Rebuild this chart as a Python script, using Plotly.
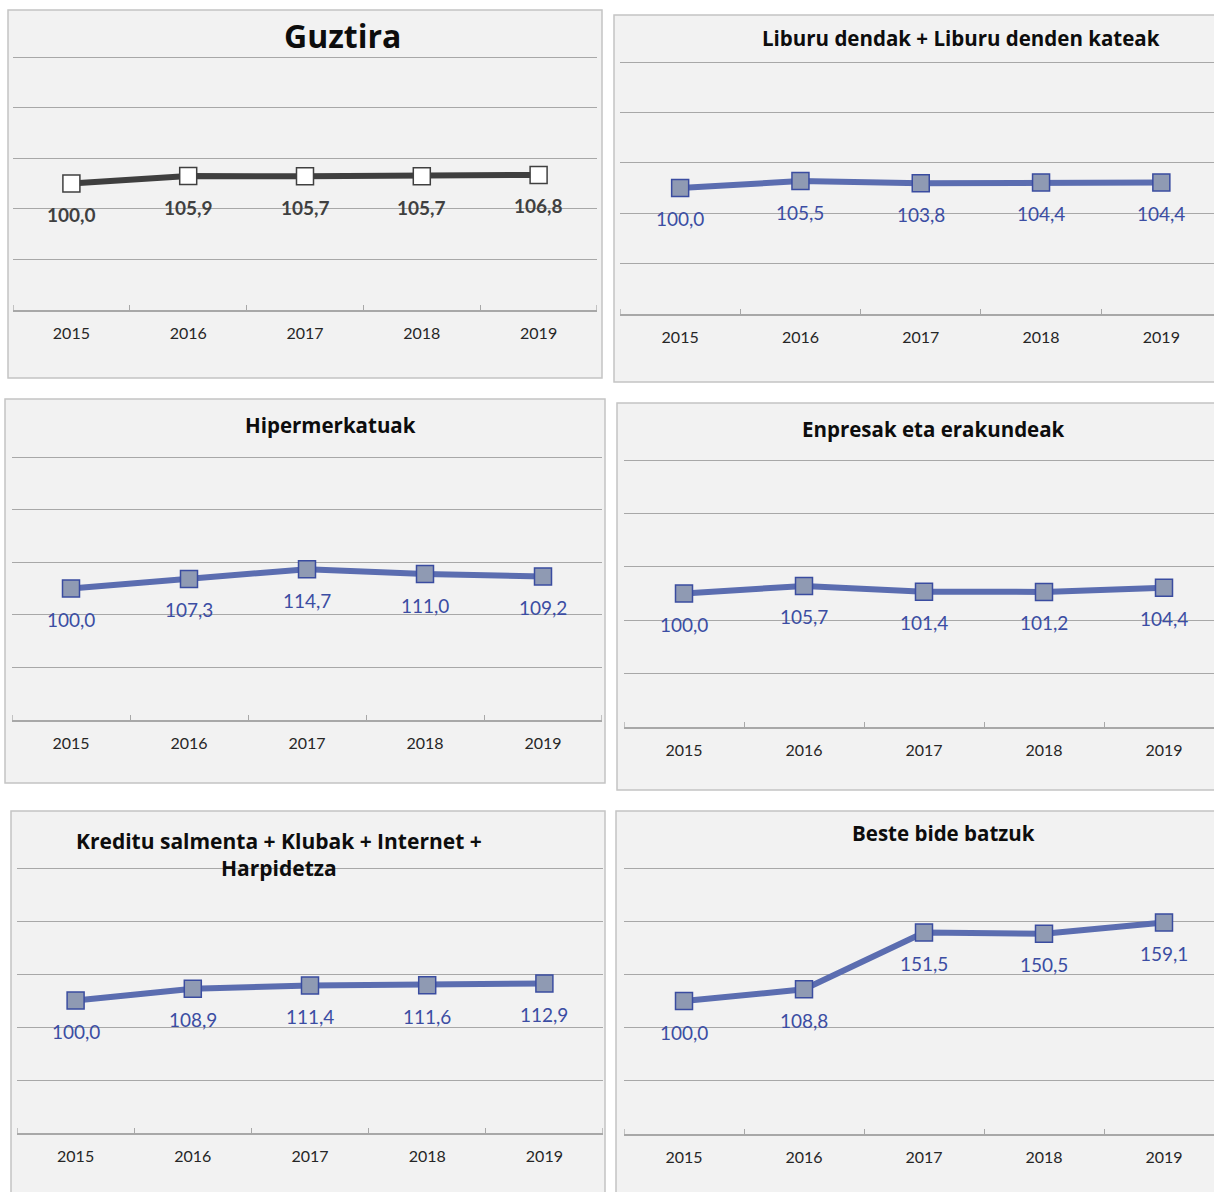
import plotly.graph_objects as go

W, H = 1214, 1192

years = ["2015", "2016", "2017", "2018", "2019"]
guztira = [100.0, 105.9, 105.7, 105.7, 106.8]
liburu = [100.0, 105.5, 103.8, 104.4, 104.4]
hiper = [100.0, 107.3, 114.7, 111.0, 109.2]
enpresak = [100.0, 105.7, 101.4, 101.2, 104.4]
kreditu = [100.0, 108.9, 111.4, 111.6, 112.9]
beste = [100.0, 108.8, 151.5, 150.5, 159.1]

titles = ["Guztira", "Liburu dendak + Liburu denden kateak", "Hipermerkatuak",
          "Enpresak eta erakundeak", "Kreditu salmenta + Klubak + Internet +<br>Harpidetza",
          "Beste bide batzuk"]
series = [guztira, liburu, hiper, enpresak, kreditu, beste]

YMAX = 200   # value of top gridline
YTOP = 204   # axis range top (a bit above so the top gridline is drawn)

# panel layout in pixels
panels = [
    dict(bg=(8, 10, 602, 378), px=(13, 597), py=(57, 310), xend=4.5, tc=(342.5, 35), ts=32),
    dict(bg=(614, 15, 1220, 382), px=(620, 1214), py=(62, 314), xend=-0.5 + 594 / 120.3, tc=(961.5, 38), ts=20.5),
    dict(bg=(5, 399, 605, 783), px=(12, 602), py=(457, 720), xend=4.5, tc=(330.5, 425), ts=20.5),
    dict(bg=(617, 403, 1220, 790), px=(624, 1214), py=(460, 727), xend=-0.5 + 590 / 120.0, tc=(933, 429), ts=20.5),
    dict(bg=(11, 811, 605, 1200), px=(17, 603), py=(868, 1133), xend=4.5, tc=(279, 854.5), ts=21),
    dict(bg=(616, 811, 1220, 1200), px=(624, 1214), py=(868, 1134), xend=-0.5 + 590 / 120.0, tc=(943, 833), ts=20.5),
]

BLUE_LINE = "#5B6DB0"
BLUE_MARK = "#8F9AB3"
BLUE_EDGE = "#3A4CA0"
BLUE_TEXT = "#3B4DA3"
DARK = "#404040"
GRID = "#A8A8A8"

fig = go.Figure()
layout = dict(
    width=W, height=H, margin=dict(l=0, r=0, t=0, b=0),
    paper_bgcolor="white", plot_bgcolor="rgba(0,0,0,0)",
    showlegend=False, shapes=[], annotations=[],
)

for i, (p, vals, title) in enumerate(zip(panels, series, titles)):
    n = "" if i == 0 else str(i + 1)
    xa, ya = "x" + n, "y" + n
    x0, y0, x1, y1 = p["bg"]
    layout["shapes"].append(dict(
        type="rect", xref="paper", yref="paper", layer="below",
        x0=x0 / W, x1=x1 / W, y0=1 - y1 / H, y1=1 - y0 / H,
        fillcolor="#F2F2F2", line=dict(color="#C4C4C4", width=1.5),
    ))
    ytop_px, ybot_px = p["py"]
    scale = (ybot_px - ytop_px) / YMAX
    ytop_px = ytop_px - (YTOP - YMAX) * scale
    layout["xaxis" + n] = dict(
        domain=[p["px"][0] / W, p["px"][1] / W], anchor=ya,
        type="category", range=[-0.5, p["xend"]], tickson="boundaries",
        ticks="inside", ticklen=5, tickcolor=GRID, tickwidth=1.3,
        showline=True, linecolor=GRID, linewidth=1.5, showgrid=False,
        tickfont=dict(family="Lato, sans-serif", size=16, color="#262626"),
        ticklabelstandoff=8, fixedrange=True,
    )
    layout["yaxis" + n] = dict(
        domain=[1 - ybot_px / H, 1 - ytop_px / H], anchor=xa,
        range=[0, YTOP], dtick=40, tick0=0, showticklabels=False,
        showgrid=True, gridcolor=GRID, gridwidth=1.3, zeroline=False,
        showline=False, fixedrange=True,
    )
    # end tick marks at category boundaries
    ends = [-0.5] + ([len(years) - 0.5] if p["xend"] >= len(years) - 0.5 else [])
    for xe in ends:
        layout["shapes"].append(dict(
            type="line", xref=xa, yref=ya, ysizemode="pixel", yanchor=0,
            x0=xe, x1=xe, y0=0, y1=5, line=dict(color=GRID, width=1.3),
        ))
    if i == 0:
        line = dict(color="#3F3F3F", width=6)
        marker = dict(symbol="square", size=17, color="white", line=dict(color=DARK, width=1.5))
        tfont = dict(family="Lato, sans-serif", size=19, color=DARK, weight="bold")
    else:
        line = dict(color=BLUE_LINE, width=6)
        marker = dict(symbol="square", size=17, color=BLUE_MARK, line=dict(color=BLUE_EDGE, width=1.5))
        tfont = dict(family="Lato, sans-serif", size=19, color=BLUE_TEXT)
    fig.add_trace(go.Scatter(x=years, y=vals, mode="lines+markers", line=line,
                             marker=marker, xaxis=xa, yaxis=ya, hoverinfo="skip"))
    for j, v in enumerate(vals):
        layout["annotations"].append(dict(
            xref=xa, yref=ya, x=j, y=v, yshift=-31, showarrow=False,
            text=f"{v:.1f}".replace(".", ","), font=tfont,
            xanchor="center", yanchor="middle",
        ))
    layout["annotations"].append(dict(
        xref="paper", yref="paper", x=p["tc"][0] / W, y=1 - p["tc"][1] / H,
        xanchor="center", yanchor="middle", showarrow=False, text=f"<b>{title}</b>",
        font=dict(family="Open Sans, sans-serif", size=p["ts"], color="#0D0D0D"),
    ))

fig.update_layout(**layout)
fig.write_html("out.html", config={"displayModeBar": False},
               post_script="document.body.style.margin='0';document.body.style.overflow='hidden';")
